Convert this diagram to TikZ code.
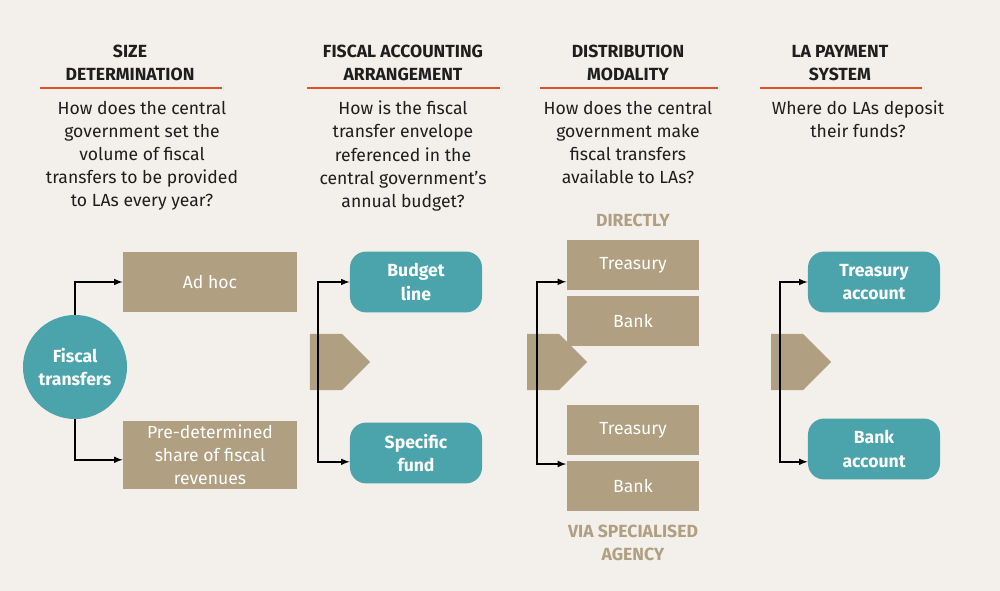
\documentclass[tikz,border=0pt]{standalone}
\usepackage{fontspec}
\setmainfont{Fira Sans}
\usetikzlibrary{shapes.arrows}
\definecolor{bgc}{HTML}{F3F0EB}
\definecolor{tan}{HTML}{B09F80}
\definecolor{teal}{HTML}{4BA3AC}
\definecolor{redline}{HTML}{E0502A}
\definecolor{txt}{HTML}{1E1E1E}
\tikzset{
  head/.style={font=\bfseries\fontsize{12.5}{16.5}\selectfont, align=center, text=txt},
  quest/.style={font=\fontsize{12.5}{16.5}\selectfont, align=center, text=txt},
  tanbox/.style={fill=tan, text=white, font=\fontsize{12.5}{16.5}\selectfont, align=center, minimum width=4.35cm, inner sep=0pt},
  tealbox/.style={fill=teal, rounded corners=0.4cm, text=white, font=\bfseries\fontsize{12.5}{16.5}\selectfont, align=center, minimum width=3.3cm, minimum height=1.52cm, inner sep=0pt},
  label/.style={font=\bfseries\fontsize{12.5}{16.5}\selectfont, text=tan, align=center},
  link/.style={-latex, line width=1.1pt, black},
  bigarrow/.style={single arrow, fill=tan, minimum width=1.4cm, single arrow head extend=0cm, minimum height=1.5cm, inner sep=0pt, shape border rotate=0},
}
\begin{document}
\begin{tikzpicture}[x=0.025cm,y=-0.025cm]
\fill[bgc] (0,0) rectangle (1000,591);
% headers
\node[head] (h1) at (130,63) {SIZE\\DETERMINATION};
\node[head] (h2) at (403,63) {FISCAL ACCOUNTING\\ARRANGEMENT};
\node[head] (h3) at (628,63) {DISTRIBUTION\\MODALITY};
\node[head] (h4) at (840,63) {LA PAYMENT\\SYSTEM};
\foreach \a/\b in {40/222,307/500,540/718,760/922}
  \draw[redline, line width=1.3pt] (\a,88) -- (\b,88);
% questions
\node[quest, anchor=north] (q1) at (142,96) {How does the central\\government set the\\volume of fiscal\\transfers to be provided\\to LAs every year?};
\node[quest, anchor=north] (q2) at (403,96) {How is the fiscal\\transfer envelope\\referenced in the\\central government’s\\annual budget?};
\node[quest, anchor=north] (q3) at (628,96) {How does the central\\government make\\fiscal transfers\\available to LAs?};
\node[quest, anchor=north] (q4) at (858,96) {Where do LAs deposit\\their funds?};
% column 1
\node[circle, fill=teal, minimum size=2.6cm, text=white, align=center, font=\bfseries\fontsize{12.5}{16.5}\selectfont] (ft) at (75,367) {Fiscal\\transfers};
\node[tanbox, minimum height=1.5cm] (adhoc) at (210,282) {Ad hoc};
\node[tanbox, minimum height=1.72cm] (share) at (210,455) {Pre-determined\\share of fiscal\\revenues};
\draw[link] (ft.north) |- (adhoc.west);
\draw[link] (ft.south) |- ([yshift=-0.12cm]share.west);
% big arrows
\node[bigarrow] (ar1) at (326,362) {};
\node[bigarrow] (ar2) at (543,362) {};
\node[bigarrow] (ar3) at (787,362) {};
% column 2
\node[tealbox] (bl) at (416,282) {Budget\\line};
\node[tealbox] (sf) at (416,453) {Specific\\fund};
\coordinate (j2) at (318,372);
\draw[link] (j2) |- (bl.west);
\draw[link] (j2) |- ([yshift=-0.22cm]sf.west);
% column 3
\node[label] (dir) at (633,220) {DIRECTLY};
\node[tanbox, minimum width=3.32cm, minimum height=1.25cm] (t1) at (633,265) {Treasury};
\node[tanbox, minimum width=3.32cm, minimum height=1.25cm] (b1) at (633,321) {Bank};
\node[tanbox, minimum width=3.32cm, minimum height=1.25cm] (t2) at (633,430) {Treasury};
\node[tanbox, minimum width=3.32cm, minimum height=1.25cm] (b2) at (633,486) {Bank};
\node[label] (via) at (633,543) {VIA SPECIALISED\\AGENCY};
\coordinate (j3) at (537,372);
\draw[link] (j3) |- ([yshift=-0.42cm]t1.west);
\draw[link] (j3) |- ([yshift=-0.85cm]t2.west);
% column 4
\node[tealbox] (ta) at (874,282) {Treasury\\account};
\node[tealbox] (ba) at (874,449) {Bank\\account};
\coordinate (j4) at (780,372);
\draw[link] (j4) |- (ta.west);
\draw[link] (j4) |- ([yshift=-0.32cm]ba.west);
\end{tikzpicture}
\end{document}
